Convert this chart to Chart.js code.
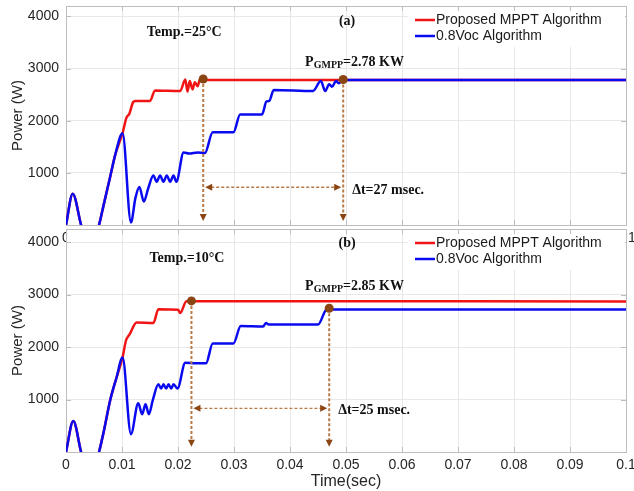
<!DOCTYPE html>
<html>
<head>
<meta charset="utf-8">
<script src="https://cdn.jsdelivr.net/npm/chart.js@4.4.1/dist/chart.umd.min.js"></script>
<style>
  html, body { margin: 0; padding: 0; background: #fff; }
  #wrap { position: relative; width: 634px; height: 491px; overflow: hidden; background: #fff; }
  #wrap canvas { position: absolute; left: 0; }
  #chartA { top: 0; }
  #chartB { top: 223px; }
</style>
</head>
<body>
<div id="wrap">
  <canvas id="chartA" width="634" height="250"></canvas>
  <canvas id="chartB" width="634" height="268"></canvas>
</div>
<script>
// axis ticks
const xTicks = [0, 0.01, 0.02, 0.03, 0.04, 0.05, 0.06, 0.07, 0.08, 0.09, 0.1];
const xTickLabels = ['0', '0.01', '0.02', '0.03', '0.04', '0.05', '0.06', '0.07', '0.08', '0.09', '0.1'];
const yTicks = [1000, 2000, 3000, 4000];
const yTickLabels = ['1000', '2000', '3000', '4000'];

// (a) Temp = 25 C : 0.8Voc algorithm
const aBlueT = [0, 0.0012, 0.0027, 0.0043, 0.0059, 0.0068, 0.0079, 0.0088, 0.0101, 0.0116, 0.0124, 0.0131, 0.0139,
  0.0147, 0.0156, 0.0162, 0.0168, 0.0174, 0.0180, 0.0186, 0.0192, 0.0197, 0.0210, 0.0220, 0.0235, 0.0248,
  0.0262, 0.0299, 0.0311, 0.0350, 0.0358, 0.0363, 0.0371, 0.0441, 0.0455, 0.0463, 0.0470, 0.0475, 0.0482,
  0.0487, 0.0495, 0.1];
const aBlueP = [0, 600, 0, -550, 0, 420, 930, 1350, 1760, 50, 520, 730, 450,
  710, 950, 830, 950, 830, 950, 830, 950, 830, 1390, 1370, 1390, 1380,
  1780, 1780, 2120, 2120, 2370, 2380, 2590, 2570, 2760, 2570, 2700, 2650, 2760,
  2720, 2780, 2780];
// (a) proposed MPPT algorithm
const aRedT = [0, 0.0012, 0.0027, 0.0043, 0.0059, 0.0068, 0.0079, 0.0088, 0.0101, 0.0108, 0.0113, 0.0120, 0.0124,
  0.0150, 0.0159, 0.0204, 0.0213, 0.0217, 0.0221, 0.0226, 0.0230, 0.0235, 0.0239, 0.0245, 0.1];
const aRedP = [0, 600, 0, -550, 0, 420, 930, 1350, 1760, 2060, 2130, 2360, 2380,
  2380, 2580, 2570, 2790, 2560, 2760, 2600, 2740, 2660, 2790, 2780, 2780];
const aMarkT = [0.0245, 0.0495];
const aMarkP = [2800, 2790];

// (b) Temp = 10 C : 0.8Voc algorithm
const bBlueT = [0, 0.0013, 0.0027, 0.0043, 0.0059, 0.0068, 0.0079, 0.0090, 0.0101, 0.0116, 0.0129, 0.0136, 0.0142,
  0.0148, 0.0155, 0.0165, 0.0170, 0.0174, 0.0179, 0.0183, 0.0188, 0.0192, 0.0199, 0.0213, 0.0230, 0.0250,
  0.0262, 0.0299, 0.0312, 0.0352, 0.0357, 0.0362, 0.0450, 0.0466, 0.0471, 0.1];
const bBlueP = [0, 590, 0, -550, 0, 420, 990, 1410, 1800, 340, 930, 720, 910,
  720, 990, 1290, 1210, 1290, 1210, 1290, 1210, 1290, 1210, 1700, 1690, 1690,
  2070, 2070, 2400, 2390, 2460, 2430, 2430, 2720, 2715, 2715];
// (b) proposed MPPT algorithm
const bRedT = [0, 0.0013, 0.0027, 0.0043, 0.0059, 0.0068, 0.0079, 0.0090, 0.0101, 0.0107, 0.0114, 0.0126,
  0.0156, 0.0165, 0.0200, 0.0204, 0.0215, 0.1];
const bRedP = [0, 590, 0, -550, 0, 420, 990, 1410, 1800, 2120, 2250, 2470,
  2460, 2720, 2710, 2650, 2875, 2870];
const bMarkT = [0.0224, 0.0470];
const bMarkP = [2880, 2740];

const SANS = '"Liberation Sans", Arial, Helvetica, sans-serif';
const SERIF = '"Liberation Serif", "Times New Roman", serif';
const RED = '#f01414';
const BLUE = '#0a0af0';
const BROWN = '#8b4513';
const DASH = '#b87a48';

function pts(ts, ps) {
  return ts.map((t, i) => ({ x: t, y: ps[i] }));
}

/** draws the box, legend and the annotation layer */
const overlay = {
  id: 'overlay',
  beforeDraw(chart) {
    const a = chart.chartArea, ctx = chart.ctx;
    ctx.save();
    ctx.fillStyle = '#fff';
    ctx.fillRect(a.left, a.top, a.width, a.height);
    ctx.restore();
  },
  beforeDatasetsDraw(chart) {
    const a = chart.chartArea, ctx = chart.ctx;
    const xs = chart.scales.x, ys = chart.scales.y;
    ctx.save();
    ctx.strokeStyle = '#bdbdbd';
    ctx.lineWidth = 1;
    ctx.beginPath();
    xTicks.forEach(v => {
      const x = Math.round(xs.getPixelForValue(v)) + 0.5;
      ctx.moveTo(x, a.bottom); ctx.lineTo(x, a.bottom - 5);
      ctx.moveTo(x, a.top); ctx.lineTo(x, a.top + 5);
    });
    yTicks.forEach(v => {
      const y = Math.round(ys.getPixelForValue(v)) + 0.5;
      ctx.moveTo(a.left, y); ctx.lineTo(a.left + 5, y);
      ctx.moveTo(a.right, y); ctx.lineTo(a.right - 5, y);
    });
    ctx.stroke();
    ctx.strokeRect(Math.round(a.left) + 0.5, Math.round(a.top) + 0.5, Math.round(a.width), Math.round(a.height));
    ctx.restore();
  },
  afterDatasetsDraw(chart, args, o) {
    const a = chart.chartArea, ctx = chart.ctx;
    const xs = chart.scales.x, ys = chart.scales.y;
    const X = v => xs.getPixelForValue(v);
    const Y = v => ys.getPixelForValue(v);
    ctx.save();

    // legend
    ctx.fillStyle = '#fff';
    ctx.fillRect(a.right - 218, a.top + 5, 217, 36);
    ctx.font = '14px ' + SANS;
    ctx.textBaseline = 'middle';
    ctx.lineWidth = 2.5;
    [[RED, 'Proposed MPPT Algorithm', 14], [BLUE, '0.8Voc Algorithm', 30]].forEach(([c, txt, dy]) => {
      ctx.strokeStyle = c;
      ctx.beginPath();
      ctx.moveTo(a.right - 211, a.top + dy);
      ctx.lineTo(a.right - 191, a.top + dy);
      ctx.stroke();
      ctx.fillStyle = '#1a1a1a';
      ctx.fillText(txt, a.right - 190, a.top + dy);
    });

    // dashed arrows
    const x1 = X(o.marks[0][0]), x2 = X(o.marks[1][0]);
    const tip = Y(o.arrowTip), hy = Y(o.arrowY);
    ctx.setLineDash([3, 2]);
    ctx.strokeStyle = DASH;
    ctx.lineWidth = 2;
    ctx.beginPath();
    o.marks.forEach(([t, p]) => {
      ctx.moveTo(X(t), Y(p) + 5);
      ctx.lineTo(X(t), tip - 6);
    });
    ctx.stroke();
    ctx.lineWidth = 1.4;
    ctx.beginPath();
    ctx.moveTo(x1 + 8, hy);
    ctx.lineTo(x2 - 8, hy);
    ctx.stroke();
    ctx.setLineDash([]);
    ctx.fillStyle = BROWN;
    const tri = (pts3) => {
      ctx.beginPath();
      ctx.moveTo(pts3[0], pts3[1]); ctx.lineTo(pts3[2], pts3[3]); ctx.lineTo(pts3[4], pts3[5]);
      ctx.closePath(); ctx.fill();
    };
    [x1, x2].forEach(x => tri([x, tip, x - 3.5, tip - 7, x + 3.5, tip - 7]));
    tri([x1 + 2, hy, x1 + 9, hy - 3.5, x1 + 9, hy + 3.5]);
    tri([x2 - 2, hy, x2 - 9, hy - 3.5, x2 - 9, hy + 3.5]);

    // texts
    ctx.fillStyle = '#111';
    ctx.textBaseline = 'middle';
    ctx.font = 'bold 14px ' + SERIF;
    ctx.textAlign = 'center';
    ctx.fillText(o.temp[0], X(o.temp[1]), Y(o.temp[2]));
    ctx.fillText(o.tag[0], X(o.tag[1]), Y(o.tag[2]));
    ctx.textAlign = 'left';
    ctx.fillText(o.dt[0], X(o.dt[1]), Y(o.dt[2]));
    let gx = X(o.gmpp[1]);
    const gy = Y(o.gmpp[2]);
    ctx.fillText('P', gx, gy);
    gx += ctx.measureText('P').width;
    ctx.font = 'bold 10px ' + SERIF;
    ctx.fillText('GMPP', gx, gy + 3);
    gx += ctx.measureText('GMPP').width;
    ctx.font = 'bold 14px ' + SERIF;
    ctx.fillText(o.gmpp[0], gx, gy);
    ctx.restore();
  }
};

function makeChart(id, cfg) {
  const tickFont = { family: SANS, size: 14 };
  return new Chart(document.getElementById(id), {
    type: 'line',
    data: {
      datasets: [
        { data: pts(cfg.redT, cfg.redP), borderColor: RED, order: 2 },
        { data: pts(cfg.blueT, cfg.blueP), borderColor: BLUE, order: 1 },
        { type: 'scatter', data: pts(cfg.markT, cfg.markP), backgroundColor: BROWN, borderColor: BROWN,
          pointRadius: 4.5, borderWidth: 0, showLine: false, order: 0 }
      ]
    },
    options: {
      responsive: false,
      animation: false,
      events: [],
      layout: { padding: { top: 6, right: 8, left: 0, bottom: 0 } },
      elements: {
        line: { borderWidth: 2.5, cubicInterpolationMode: 'monotone', fill: false },
        point: { radius: 0 }
      },
      datasets: { line: { clip: 0 } },
      scales: {
        x: {
          type: 'linear', min: 0, max: 0.1,
          afterBuildTicks: s => { s.ticks = xTicks.map(v => ({ value: v })); },
          afterFit: s => { s.height = cfg.xHeight; s.paddingLeft = 0; s.paddingRight = 0; },
          ticks: { autoSkip: false, maxRotation: 0, padding: 5, font: tickFont, color: '#262626',
            callback: (v, i) => xTickLabels[i] },
          grid: { color: '#e8e8e8', drawTicks: false },
          border: { display: false },
          title: { display: cfg.xTitle, text: 'Time(sec)', color: '#262626',
            font: { family: SANS, size: 16 }, padding: { top: 0, bottom: 0 } }
        },
        y: {
          type: 'linear', min: 0, max: cfg.yMax,
          afterBuildTicks: s => { s.ticks = yTicks.map(v => ({ value: v })); },
          afterFit: s => { s.width = 66; s.paddingTop = 0; s.paddingBottom = 0; },
          ticks: { padding: 7, font: tickFont, color: '#262626', callback: (v, i) => yTickLabels[i] },
          grid: { color: '#e8e8e8', drawTicks: false },
          border: { display: false },
          title: { display: true, text: 'Power (W)', color: '#262626',
            font: { family: SANS, size: 15 }, padding: { top: 9, bottom: 0 } }
        }
      },
      plugins: {
        legend: { display: false },
        tooltip: { enabled: false },
        overlay: cfg.notes
      }
    },
    plugins: [overlay]
  });
}

makeChart('chartA', {
  redT: aRedT, redP: aRedP, blueT: aBlueT, blueP: aBlueP, markT: aMarkT, markP: aMarkP,
  yMax: 4200, xHeight: 25, xTitle: false,
  notes: {
    marks: [[aMarkT[0], aMarkP[0]], [aMarkT[1], aMarkP[1]]],
    arrowTip: 75, arrowY: 725,
    temp: ['Temp.=25°C', 0.0211, 3690],
    tag: ['(a)', 0.0502, 3900],
    gmpp: ['=2.78 KW', 0.0427, 3115],
    dt: ['\u0394t=27 msec.', 0.0511, 673]
  }
});

makeChart('chartB', {
  redT: bRedT, redP: bRedP, blueT: bBlueT, blueP: bBlueP, markT: bMarkT, markP: bMarkP,
  yMax: 4250, xHeight: 39, xTitle: true,
  notes: {
    marks: [[bMarkT[0], bMarkP[0]], [bMarkT[1], bMarkP[1]]],
    arrowTip: 100, arrowY: 832,
    temp: ['Temp.=10°C', 0.0216, 3695],
    tag: ['(b)', 0.0502, 3980],
    gmpp: ['=2.85 KW', 0.0427, 3160],
    dt: ['\u0394t=25 msec.', 0.0486, 800]
  }
});
</script>
</body>
</html>
